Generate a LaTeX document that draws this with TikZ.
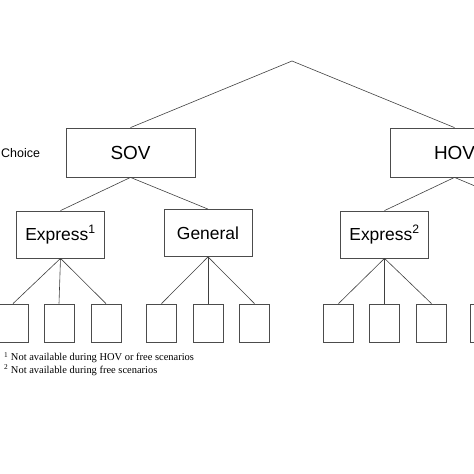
\documentclass[tikz,border=0pt]{standalone}
\usepackage{fontspec}
\setmainfont{Liberation Sans}
\newfontfamily\notefont{Liberation Serif}
\tikzset{
  mode/.style={draw=black!70, line width=0.8bp, minimum width=129bp, minimum height=49bp, inner sep=0pt, font=\fontsize{19}{22}\selectfont},
  lane/.style={draw=black!70, line width=0.8bp, minimum width=88bp, minimum height=47bp, inner sep=0pt, font=\fontsize{17.5}{20}\selectfont},
  leaf/.style={draw=black!70, line width=0.8bp, minimum width=30bp, minimum height=38bp, inner sep=0pt},
  link/.style={draw=black!75, line width=0.6bp},
  lbl/.style={font=\fontsize{12.5}{14}\selectfont, inner sep=0pt},
  note/.style={font=\notefont\fontsize{10.5}{12.5}\selectfont, align=left, inner sep=0pt},
}

\begin{document}
\begin{tikzpicture}[x=1bp, y=-1bp]
  \useasboundingbox (0,0) rectangle (474,474);
  \clip (0,0) rectangle (474,474);
  \coordinate (top) at (292,61);
  % mode level
  \node[mode] (sov) at (130.5,152.5) {SOV};
  \node[mode] (hov) at (454.5,152.5) {HOV};
  \node[lbl, anchor=west] (choice) at (1,153) {Choice};
  \draw[link] (top) -- (sov.north);
  \draw[link] (top) -- (hov.north);
  % lane level
  \node[lane] (ex1) at (60.5,234.5) {Express\textsuperscript{1}};
  \node[lane] (gen1) at (208,233) {General};
  \node[lane] (ex2) at (384.5,234.5) {Express\textsuperscript{2}};
  \coordinate (gen2) at (532,210);
  \draw[link] (sov.south) -- (ex1.north);
  \draw[link] (sov.south) -- (gen1.north);
  \draw[link] (hov.south) -- (ex2.north);
  \draw[link] (hov.south) -- (gen2);
  % leaves
  \foreach \x [count=\i] in {13,59,106,161.5,208,254.5,338.5,384.5,431.5,485} {
    \node[leaf] (l\i) at (\x,323) {};
  }
  \foreach \p/\c in {ex1/l1,ex1/l2,ex1/l3,gen1/l4,gen1/l5,gen1/l6,ex2/l7,ex2/l8,ex2/l9} {
    \draw[link] (\p.south) -- (\c.north);
  }
  % footnotes
  \node[note, anchor=north west] (fn) at (4,352) {\textsuperscript{1} Not available during HOV or free scenarios\\
    \textsuperscript{2} Not available during free scenarios};
\end{tikzpicture}
\end{document}
